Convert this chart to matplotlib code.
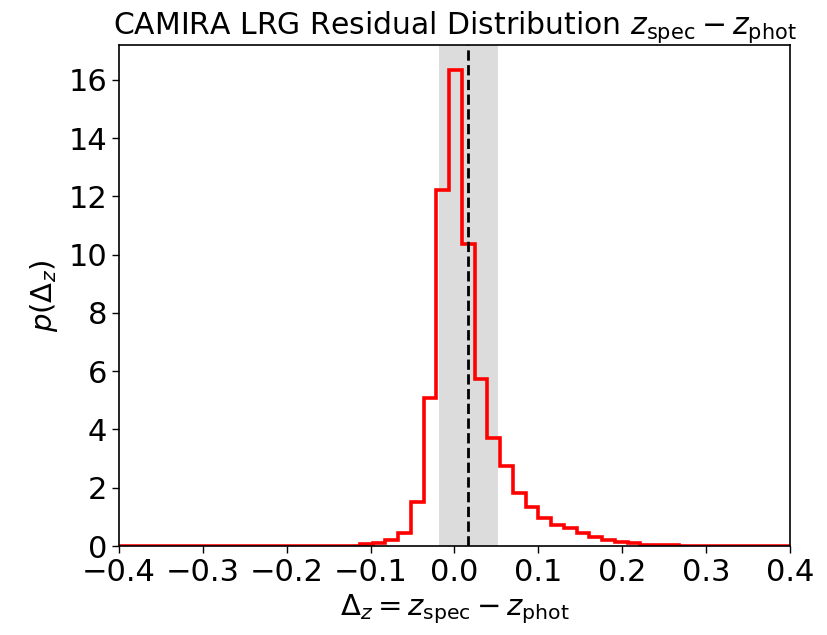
import numpy as np
import matplotlib
matplotlib.use("Agg")
import matplotlib.pyplot as plt

# histogram (density)
bin_width = 0.0152
first_edge = -0.1127
density = [0.07, 0.09, 0.20, 0.46, 1.50, 5.08, 12.23, 16.33, 10.38, 5.73,
           3.72, 2.76, 1.83, 1.35, 0.95, 0.72, 0.61, 0.46, 0.32, 0.20,
           0.15, 0.10, 0.05, 0.03, 0.02]
n_pad = 25  # empty bins on each side (data range wider than plot window)

center_line = 0.0165
band_low = -0.0179
band_high = 0.0513

xticks = [-0.4, -0.3, -0.2, -0.1, 0.0, 0.1, 0.2, 0.3, 0.4]
yticks = [0, 2, 4, 6, 8, 10, 12, 14, 16]

values = np.concatenate([np.zeros(n_pad), density, np.zeros(n_pad)])
start = first_edge - n_pad * bin_width
edges = start + bin_width * np.arange(len(values) + 1)

fig = plt.figure(figsize=(8.28, 6.35), dpi=100)
ax = fig.add_axes([119 / 828, 1 - 546 / 635, (790 - 119) / 828, (546 - 45) / 635])

ax.axvspan(band_low, band_high, color="#dcdcdc", zorder=0, lw=0)
ax.stairs(values, edges, color="red", linewidth=2.6, zorder=2)
ax.axvline(center_line, color="black", linestyle="--", linewidth=2.0, zorder=3)

ax.set_xlim(-0.4, 0.4)
ax.set_ylim(0, 17.2)
ax.set_xticks(xticks)
ax.set_yticks(yticks)
ax.set_xticklabels([f"{t:.1f}".replace("-", "\u2212") for t in xticks])
ax.tick_params(labelsize=22, length=5, width=1)
for s in ax.spines.values():
    s.set_linewidth(1.2)

ax.set_xlabel(r"$\Delta_z = z_{\rm spec} - z_{\rm phot}$", fontsize=21, labelpad=4)
ax.set_ylabel(r"$p(\Delta_z)$", fontsize=21, labelpad=6)
ax.set_title(r"CAMIRA LRG Residual Distribution $z_{\rm spec} - z_{\rm phot}$",
             fontsize=21.5, pad=5)

fig.savefig("out.png", dpi=100)
